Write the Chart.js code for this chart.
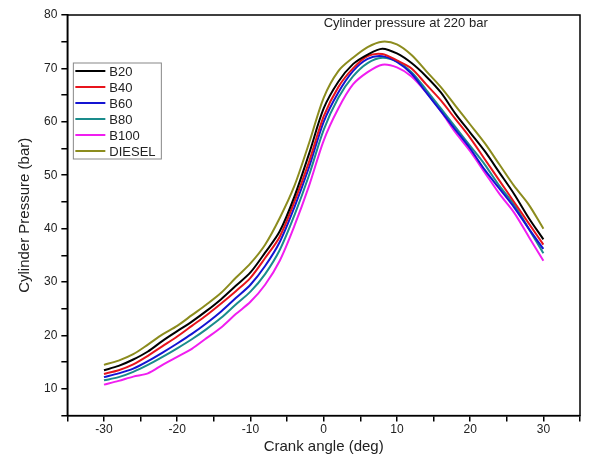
<!DOCTYPE html>
<html>
<head>
<meta charset="utf-8">
<script src="https://cdn.jsdelivr.net/npm/chart.js@4.4.0/dist/chart.umd.min.js"></script>
<style>
  html, body { margin: 0; padding: 0; background: #fff; }
  #wrap { width: 607px; height: 459px; }
</style>
</head>
<body>
<div id="wrap"><canvas id="myChart" width="607" height="459"></canvas></div>
<script>
const angles = [-30, -28, -26, -24, -22, -20, -18, -16, -14, -12, -10, -8, -6, -4, -2,
  0, 2, 4, 6, 8, 10, 12, 14, 16, 18, 20, 22, 24, 26, 28, 30];

const b20 = [13.5, 14.3, 15.5, 17, 19, 20.8, 22.6, 24.6, 26.8, 29.3, 31.8, 35.5, 39.5, 46, 54,
  62.5, 67.5, 70.8, 72.6, 73.7, 72.8, 71, 68.5, 65.5, 61.5, 58, 54.5, 50.5, 46.5, 42, 38];
const b40 = [12.8, 13.5, 14.6, 16.2, 18, 19.8, 21.8, 23.8, 26, 28.3, 30.8, 34.5, 38.5, 45, 52.5,
  61, 66.5, 70, 72.3, 72.7, 71.5, 70, 67, 64, 60.5, 57, 53, 49, 45, 41, 37];
const b60 = [12.2, 12.9, 13.8, 15.2, 16.8, 18.5, 20.3, 22.3, 24.5, 27, 29.5, 33, 37.5, 44, 51.5,
  60, 65.5, 69.5, 71.8, 72.3, 71.2, 69, 65.5, 62, 58.5, 55, 51, 47.5, 44, 40, 36.2];
const b80 = [11.6, 12.2, 13.2, 14.5, 16, 17.6, 19.3, 21.2, 23.3, 25.8, 28.2, 31.5, 36, 42.5, 50,
  58.5, 64.5, 68.5, 71, 72, 71.3, 69.3, 66, 62.5, 59, 55.5, 52, 48, 44.5, 40, 35.4];
const b100 = [10.8, 11.5, 12.3, 12.9, 14.5, 16, 17.5, 19.5, 21.5, 24, 26.3, 29.5, 34, 40.5, 48,
  56.5, 62.5, 67, 69.3, 70.7, 70.2, 68.5, 65.5, 62, 58, 54.5, 50.5, 46.5, 43, 38.5, 34];
const diesel = [14.5, 15.3, 16.5, 18.3, 20.2, 21.8, 23.8, 25.8, 28, 30.8, 33.5, 37, 42, 48, 56,
  64.5, 69.5, 72, 74, 75, 74.5, 72.5, 69.5, 66.5, 63, 59.5, 56, 52, 48, 44.5, 40];

const seriesNames = ['B20', 'B40', 'B60', 'B80', 'B100', 'DIESEL'];
const seriesValues = [b20, b40, b60, b80, b100, diesel];
const seriesColors = ['#000000', '#e8141c', '#1414d2', '#1a8c8c', '#f01ef0', '#8c8c1e'];

const chartTitle = 'Cylinder pressure at 220 bar';

const textColor = '#222';
const fontFamily = '"Liberation Sans", Arial, sans-serif';

const datasets = seriesNames.map((name, i) => ({
  label: name,
  data: angles.map((a, j) => ({ x: a, y: seriesValues[i][j] })),
  borderColor: seriesColors[i],
  backgroundColor: seriesColors[i],
  borderWidth: 2,
  pointRadius: 0,
  tension: 0.3,
  fill: false
}));

// box round the plot, title inside and the framed legend
const decorations = {
  id: 'decorations',
  afterDraw(chart) {
    const ctx = chart.ctx;
    const a = chart.chartArea;
    ctx.save();
    ctx.strokeStyle = '#000';
    ctx.lineWidth = 1.5;
    ctx.strokeRect(a.left, a.top, a.right - a.left, a.bottom - a.top);

    ctx.fillStyle = textColor;
    ctx.font = '13px ' + fontFamily;
    ctx.textAlign = 'center';
    ctx.textBaseline = 'middle';
    ctx.fillText(chartTitle, a.left + (a.right - a.left) * 0.66, a.top + 8);

    const lx = a.left + 6, ly = a.top + 48, rowH = 16;
    ctx.strokeStyle = '#888';
    ctx.lineWidth = 1;
    ctx.strokeRect(lx, ly, 88, rowH * seriesNames.length);
    ctx.font = '13px ' + fontFamily;
    ctx.textAlign = 'left';
    seriesNames.forEach((name, i) => {
      const y = ly + rowH * i + rowH / 2;
      ctx.strokeStyle = seriesColors[i];
      ctx.lineWidth = 2;
      ctx.beginPath();
      ctx.moveTo(lx + 2, y);
      ctx.lineTo(lx + 32, y);
      ctx.stroke();
      ctx.fillStyle = textColor;
      ctx.fillText(name, lx + 36, y + 1);
    });
    ctx.restore();
  }
};

const config = {
  type: 'line',
  data: { datasets: datasets },
  options: {
    responsive: false,
    animation: false,
    layout: { padding: { top: 15, right: 27, left: 16, bottom: 3 } },
    plugins: {
      legend: { display: false },
      tooltip: { enabled: false }
    },
    scales: {
      x: {
        type: 'linear',
        min: -35,
        max: 35,
        border: { color: '#000', width: 1.5 },
        grid: { drawOnChartArea: false, drawTicks: true, tickLength: 6, color: '#000', lineWidth: 1.5 },
        ticks: {
          stepSize: 5,
          color: textColor,
          font: { family: fontFamily, size: 12 },
          padding: 1,
          maxRotation: 0,
          callback: v => (v % 10 === 0 && Math.abs(v) < 35 ? v : '')
        },
        title: {
          display: true,
          text: 'Crank angle (deg)',
          color: textColor,
          font: { family: fontFamily, size: 15 },
          padding: { top: 0, bottom: 0 }
        }
      },
      y: {
        min: 5,
        max: 80,
        border: { color: '#000', width: 1.5 },
        grid: { drawOnChartArea: false, drawTicks: true, tickLength: 6, color: '#000', lineWidth: 1.5 },
        ticks: {
          stepSize: 5,
          color: textColor,
          font: { family: fontFamily, size: 12 },
          padding: 4,
          callback: v => (v % 10 === 0 ? v : '')
        },
        title: {
          display: true,
          text: 'Cylinder Pressure (bar)',
          color: textColor,
          font: { family: fontFamily, size: 15 },
          padding: { top: 0, bottom: 6 }
        }
      }
    }
  },
  plugins: [decorations]
};

const myChart = new Chart(document.getElementById('myChart'), config);
</script>
</body>
</html>
